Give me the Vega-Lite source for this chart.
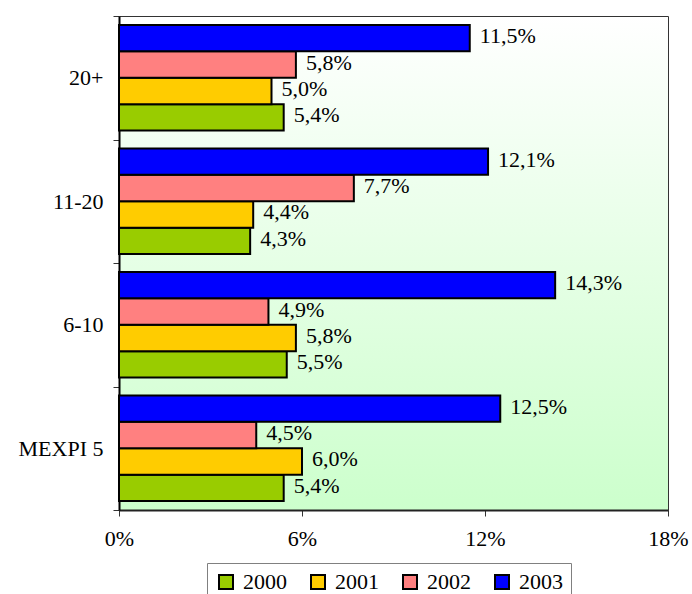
{
  "$schema": "https://vega.github.io/schema/vega-lite/v6.json",
  "width": 549,
  "height": 494,
  "autosize": {"type": "none"},
  "padding": {"left": 119, "top": 16, "right": 24, "bottom": 84},
  "background": "white",
  "data": {
    "values": [
      {"group": "20+", "year": "2000", "value": 0.054, "label": "5,4%"},
      {"group": "20+", "year": "2001", "value": 0.050, "label": "5,0%"},
      {"group": "20+", "year": "2002", "value": 0.058, "label": "5,8%"},
      {"group": "20+", "year": "2003", "value": 0.115, "label": "11,5%"},
      {"group": "11-20", "year": "2000", "value": 0.043, "label": "4,3%"},
      {"group": "11-20", "year": "2001", "value": 0.044, "label": "4,4%"},
      {"group": "11-20", "year": "2002", "value": 0.077, "label": "7,7%"},
      {"group": "11-20", "year": "2003", "value": 0.121, "label": "12,1%"},
      {"group": "6-10", "year": "2000", "value": 0.055, "label": "5,5%"},
      {"group": "6-10", "year": "2001", "value": 0.058, "label": "5,8%"},
      {"group": "6-10", "year": "2002", "value": 0.049, "label": "4,9%"},
      {"group": "6-10", "year": "2003", "value": 0.143, "label": "14,3%"},
      {"group": "MEXPI 5", "year": "2000", "value": 0.054, "label": "5,4%"},
      {"group": "MEXPI 5", "year": "2001", "value": 0.060, "label": "6,0%"},
      {"group": "MEXPI 5", "year": "2002", "value": 0.045, "label": "4,5%"},
      {"group": "MEXPI 5", "year": "2003", "value": 0.125, "label": "12,5%"}
    ]
  },
  "encoding": {
    "y": {
      "field": "group",
      "type": "nominal",
      "sort": ["20+", "11-20", "6-10", "MEXPI 5"],
      "scale": {"paddingInner": 0, "paddingOuter": 0},
      "axis": {
        "title": null,
        "tickBand": "extent",
        "tickSize": 6,
        "tickColor": "#333333",
        "tickWidth": 1,
        "domainColor": "black",
        "domainWidth": 2,
        "labelFont": "Liberation Serif, Times New Roman, serif",
        "labelFontSize": 22,
        "labelColor": "black",
        "labelPadding": 10,
        "grid": false
      }
    },
    "yOffset": {
      "field": "year",
      "type": "nominal",
      "sort": "descending",
      "scale": {"paddingInner": 0, "paddingOuter": 0.34}
    },
    "x": {
      "field": "value",
      "type": "quantitative",
      "scale": {"domain": [0, 0.18], "nice": false, "zero": true},
      "axis": {
        "title": null,
        "values": [0, 0.06, 0.12, 0.18],
        "format": ".0%",
        "labelFlush": false,
        "tickSize": 6,
        "tickColor": "#333333",
        "tickWidth": 1,
        "domainColor": "#222222",
        "domainWidth": 2,
        "labelFont": "Liberation Serif, Times New Roman, serif",
        "labelFontSize": 22,
        "labelColor": "black",
        "labelPadding": 12,
        "grid": false
      }
    }
  },
  "layer": [
    {
      "mark": {"type": "bar", "stroke": "black", "strokeWidth": 2},
      "encoding": {
        "color": {
          "field": "year",
          "type": "nominal",
          "scale": {
            "domain": ["2000", "2001", "2002", "2003"],
            "range": ["#99cc00", "#ffcc00", "#ff8080", "#0000ff"]
          },
          "legend": {
            "title": null,
            "orient": "none",
            "legendX": 88,
            "legendY": 547,
            "direction": "horizontal",
            "symbolType": "square",
            "symbolSize": 196,
            "symbolStrokeColor": "black",
            "symbolStrokeWidth": 2,
            "labelFont": "Liberation Serif, Times New Roman, serif",
            "labelFontSize": 22,
            "labelColor": "black",
            "labelOffset": 6,
            "columnPadding": 20,
            "strokeColor": "#808080",
            "padding": 8
          }
        }
      }
    },
    {
      "mark": {
        "type": "text",
        "align": "left",
        "baseline": "middle",
        "dx": 10,
        "dy": -2,
        "font": "Liberation Serif, Times New Roman, serif",
        "fontSize": 22,
        "color": "black"
      },
      "encoding": {"text": {"field": "label"}}
    }
  ],
  "config": {
    "view": {
      "stroke": "#333333",
      "strokeWidth": 1,
      "fill": {
        "gradient": "linear",
        "x1": 0, "y1": 0, "x2": 0, "y2": 1,
        "stops": [
          {"offset": 0, "color": "#ffffff"},
          {"offset": 1, "color": "#ccffcc"}
        ]
      }
    }
  }
}
